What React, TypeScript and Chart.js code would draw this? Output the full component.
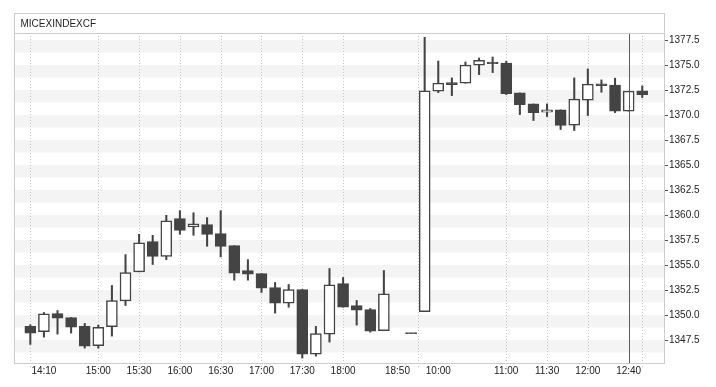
import React, { useEffect, useRef } from "react";
import { Chart, registerables } from "chart.js";

Chart.register(...registerables);

const TITLE = "MICEXINDEXCF";

const times: string[] = [
  "14:10", "14:20", "14:30", "14:40", "14:50", "15:00", "15:10", "15:20", "15:30", "15:40",
  "15:50", "16:00", "16:10", "16:20", "16:30", "16:40", "16:50", "17:00", "17:10", "17:20",
  "17:30", "17:40", "17:50", "18:00", "18:10", "18:20", "18:30", "18:40", "18:50", "10:00",
  "10:10", "10:20", "10:30", "10:40", "10:50", "11:00", "11:10", "11:20", "11:30", "11:40",
  "11:50", "12:00", "12:10", "12:20", "12:30", "12:40",
];

const opens: (number | null)[] = [
  1348.86, 1348.33, 1350.15, 1349.75, 1348.86, 1346.93, 1348.83, 1351.42, 1354.32, 1357.34,
  1355.87, 1359.64, 1358.81, 1359.04, 1358.14, 1356.94, 1354.45, 1354.15, 1352.75, 1351.18,
  1352.55, 1346.09, 1348.09, 1353.15, 1350.95, 1350.55, 1348.43, null, 1348.13, 1350.33,
  1372.38, 1373.24, 1373.18, 1374.98, 1375.30, 1375.20, 1372.21, 1371.11, 1370.28, 1370.51,
  1368.99, 1371.48, 1373.11, 1372.98, 1370.38, 1372.41,
];
const highs: (number | null)[] = [
  1349.03, 1350.25, 1350.45, 1349.75, 1349.16, 1348.99, 1352.95, 1356.04, 1358.07, 1357.97,
  1359.97, 1360.43, 1360.23, 1359.74, 1360.43, 1356.94, 1355.54, 1354.15, 1353.25, 1353.05,
  1352.55, 1348.86, 1354.65, 1353.75, 1351.45, 1350.65, 1354.45, null, 1348.13, 1377.77,
  1375.40, 1373.71, 1375.30, 1375.70, 1375.80, 1375.37, 1372.21, 1371.11, 1371.11, 1370.51,
  1373.71, 1374.61, 1373.51, 1373.68, 1372.38, 1372.91,
];
const lows: (number | null)[] = [
  1347.06, 1347.79, 1348.09, 1348.19, 1346.69, 1346.69, 1347.89, 1350.95, 1354.32, 1355.05,
  1355.54, 1358.07, 1357.97, 1356.87, 1355.81, 1353.48, 1353.48, 1352.25, 1350.19, 1350.78,
  1345.69, 1345.89, 1347.29, 1350.78, 1348.99, 1348.29, 1348.43, null, 1348.13, 1350.33,
  1372.24, 1371.94, 1373.18, 1374.04, 1374.24, 1372.04, 1370.04, 1369.45, 1369.85, 1368.55,
  1368.45, 1369.95, 1372.28, 1370.24, 1370.38, 1371.74,
];
const closes: (number | null)[] = [
  1348.19, 1350.12, 1349.68, 1348.79, 1346.89, 1348.76, 1351.45, 1354.25, 1357.21, 1355.87,
  1359.41, 1358.47, 1359.11, 1358.07, 1356.87, 1354.18, 1354.08, 1352.68, 1351.18, 1352.55,
  1346.09, 1348.13, 1353.02, 1350.78, 1350.48, 1348.39, 1352.12, null, 1348.13, 1372.41,
  1373.18, 1373.04, 1374.98, 1375.47, 1375.13, 1372.14, 1371.04, 1370.24, 1370.51, 1368.95,
  1371.58, 1373.08, 1372.94, 1370.38, 1372.38, 1372.04,
];

// x-axis labels (candle index where each label is drawn, and its text)
const xLabelIndex: number[] = [1, 5, 8, 11, 14, 17, 20, 23, 27, 30, 35, 38, 41, 44];
const xLabelText: string[] = [
  "14:10", "15:00", "15:30", "16:00", "16:30", "17:00", "17:30", "18:00", "18:50", "10:00",
  "11:00", "11:30", "12:00", "12:40",
];
// dotted vertical grid lines (candle index; 28.5 = session break)
const gridIndex: number[] = [0, 5, 8, 11, 14, 17, 20, 23, 28.5, 35, 38, 41, 45];
const cursorIndex = 44;

const yTicks: number[] = [1347.5, 1350, 1352.5, 1355, 1357.5, 1360, 1362.5, 1365, 1367.5, 1370, 1372.5, 1375, 1377.5];

const DARK = "#444444";
const FONT = "'Liberation Sans', Arial, sans-serif";

export default function App() {
  const ref = useRef<HTMLCanvasElement>(null);

  useEffect(() => {
    if (!ref.current) return;
    const idx = times.map((_, i) => i).filter((i) => opens[i] !== null);
    const bodyData = idx.map((i) => ({
      x: i,
      y: [Math.min(opens[i]!, closes[i]!), Math.max(opens[i]!, closes[i]!)],
    }));
    const wickData = idx.map((i) => ({ x: i, y: [lows[i]!, highs[i]!] }));
    const bodyFill = idx.map((i) => (closes[i]! <= opens[i]! ? DARK : "#ffffff"));

    const decor = {
      id: "decor",
      beforeDraw(chart: any) {
        const { ctx, chartArea: a, scales } = chart;
        const y = scales.y;
        ctx.save();
        ctx.fillStyle = "#ffffff";
        ctx.fillRect(0, 0, chart.width, chart.height);
        ctx.fillStyle = "#f4f4f4";
        for (const t of yTicks) {
          const y1 = y.getPixelForValue(t);
          const y2 = y.getPixelForValue(t - 1.25);
          ctx.fillRect(a.left, y1, a.right - a.left, y2 - y1);
        }
        ctx.restore();
      },
      beforeDatasetsDraw(chart: any) {
        const { ctx, chartArea: a, scales } = chart;
        const x = scales.x;
        ctx.save();
        ctx.strokeStyle = "#c4c4c4";
        ctx.lineWidth = 1;
        ctx.setLineDash([1, 2]);
        for (const g of gridIndex) {
          const px = Math.round(x.getPixelForValue(g)) + 0.5;
          ctx.beginPath();
          ctx.moveTo(px, a.top);
          ctx.lineTo(px, a.bottom + 4);
          ctx.stroke();
        }
        ctx.restore();
      },
      afterDatasetsDraw(chart: any) {
        const { ctx, chartArea: a, scales } = chart;
        const x = scales.x;
        ctx.save();
        // cursor line
        const cx = Math.round(x.getPixelForValue(cursorIndex)) + 0.5;
        ctx.strokeStyle = "#5a5a5a";
        ctx.lineWidth = 1;
        ctx.beginPath();
        ctx.moveTo(cx, a.top);
        ctx.lineTo(cx, a.bottom);
        ctx.stroke();
        // frame
        ctx.strokeStyle = "#cccccc";
        ctx.lineWidth = 1;
        const L = Math.round(a.left) + 0.5;
        const R = Math.round(a.right) + 0.5;
        const T = Math.round(a.top) + 0.5;
        const B = Math.round(a.bottom) + 0.5;
        const TT = T - 20;
        ctx.strokeRect(L, TT, R - L, B - TT);
        ctx.beginPath();
        ctx.moveTo(L, T);
        ctx.lineTo(R, T);
        ctx.stroke();
        // title
        ctx.fillStyle = "#222222";
        ctx.font = `10px ${FONT}`;
        ctx.textBaseline = "middle";
        ctx.textAlign = "left";
        ctx.fillText(TITLE, L + 6, (TT + T) / 2 + 0.5);
        ctx.restore();
      },
    };

    const chart = new Chart(ref.current, {
      type: "bar",
      data: {
        datasets: [
          {
            label: "wick",
            data: wickData as any,
            backgroundColor: DARK,
            borderWidth: 0,
            grouped: false,
            categoryPercentage: 1,
            barPercentage: 1,
            maxBarThickness: 1.4,
            order: 2,
          } as any,
          {
            label: "body",
            data: bodyData as any,
            backgroundColor: bodyFill,
            borderColor: DARK,
            borderWidth: 1.5,
            borderSkipped: false,
            grouped: false,
            categoryPercentage: 1,
            barPercentage: 1,
            maxBarThickness: 11,
            minBarLength: 1.2,
            order: 1,
          } as any,
        ],
      },
      options: {
        responsive: false,
        animation: false,
        devicePixelRatio: 1,
        layout: { padding: { left: 14, top: 33, right: 0, bottom: 0 } },
        plugins: { legend: { display: false }, tooltip: { enabled: false }, title: { display: false } },
        scales: {
          x: {
            type: "linear",
            offset: false,
            min: -1.2,
            max: 46.6,
            grid: { display: false, drawTicks: false, tickLength: 0 },
            border: { display: false },
            afterBuildTicks: (s: any) => {
              s.ticks = xLabelIndex.map((v) => ({ value: v }));
            },
            afterFit: (s: any) => {
              s.height = 24;
            },
            ticks: {
              autoSkip: false,
              maxRotation: 0,
              padding: 2,
              color: "#222222",
              font: { family: FONT, size: 10 },
              callback: (_v: any, i: number) => xLabelText[i],
            },
          },
          y: {
            type: "linear",
            position: "right",
            min: 1345.2,
            max: 1378.2,
            grid: { drawOnChartArea: false, drawTicks: true, tickLength: 4, color: "#555555" },
            border: { display: false },
            afterBuildTicks: (s: any) => {
              s.ticks = yTicks.map((v) => ({ value: v }));
            },
            afterFit: (s: any) => {
              s.width = 52;
            },
            ticks: {
              padding: 1,
              color: "#222222",
              font: { family: FONT, size: 10 },
              callback: (v: any) => Number(v).toFixed(1),
            },
          },
        },
      },
      plugins: [decor],
    } as any);
    return () => chart.destroy();
  }, []);

  return (
    <div style={{ position: "fixed", left: 0, top: 0, width: 716, height: 387, background: "#fff" }}>
      <canvas ref={ref} width={716} height={387} style={{ width: 716, height: 387, display: "block" }} />
    </div>
  );
}
